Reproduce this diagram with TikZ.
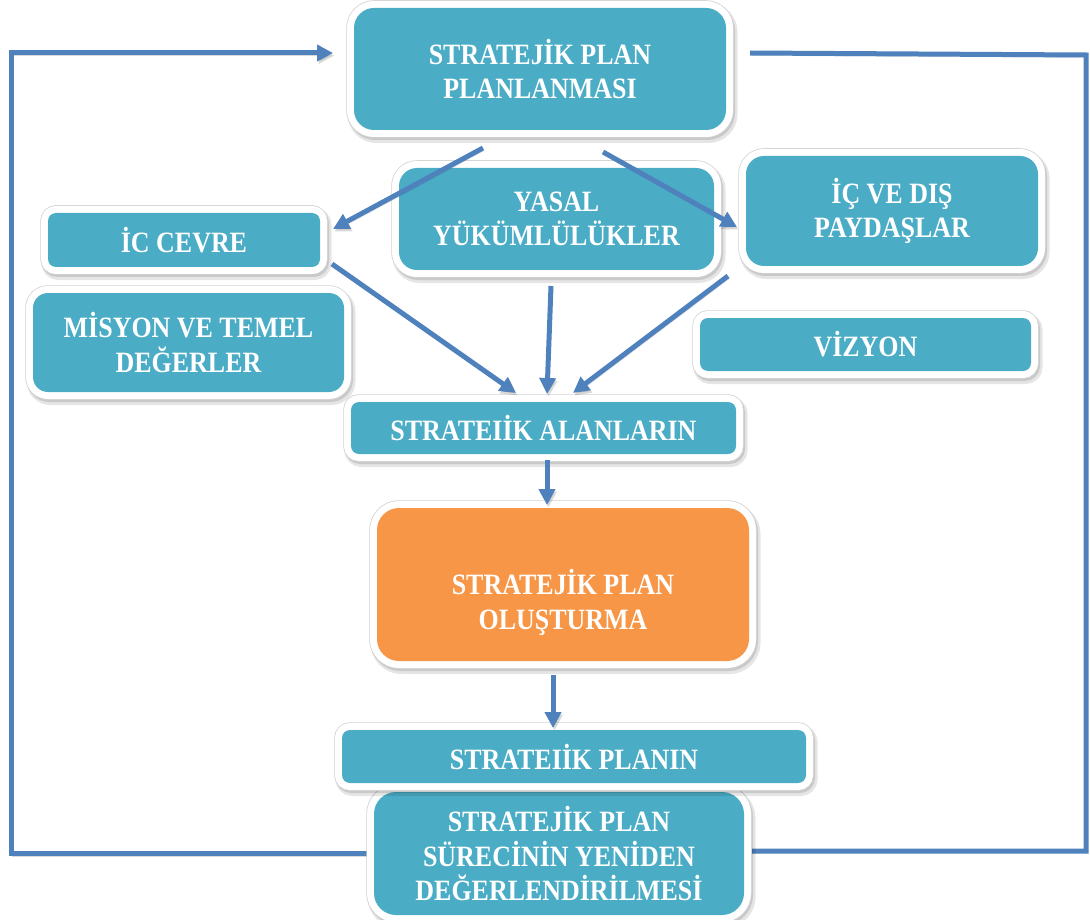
\documentclass[tikz,border=0pt]{standalone}
\usepackage{fontspec}
\setmainfont{Liberation Serif}[FakeStretch=0.88]
\usetikzlibrary{arrows.meta}
\definecolor{tealc}{HTML}{4BACC6}
\definecolor{orangec}{HTML}{F79646}
\definecolor{linec}{HTML}{4F81BD}
\pgfdeclarelayer{bg}
\pgfsetlayers{bg,main}
\tikzset{
  boxtext/.style={text=white, inner sep=0pt, align=center, font=\bfseries\fontsize{29.5}{34.5}\selectfont},
  box/.style={rectangle, rounded corners=#1, fill=tealc, boxtext,
    preaction={draw=black, opacity=0.10, line width=18pt, transform canvas={shift={(2.5pt,-4pt)}}},
    preaction={draw=black, opacity=0.12, line width=15pt, transform canvas={shift={(1.5pt,-2.5pt)}}},
    preaction={draw=black!18, line width=15.5pt},
    preaction={draw=white, line width=14pt}},
  box/.default=8pt,
  flow/.style={draw=linec, line width=5pt, -{Triangle[length=16pt,width=16pt]},
    preaction={draw=black, opacity=0.15, transform canvas={shift={(1.5pt,-2.5pt)}}}},
  loopline/.style={draw=linec, line width=5pt, line join=miter,
    preaction={draw=black, opacity=0.15, transform canvas={shift={(1.5pt,-2.5pt)}}}},
}
\begin{document}
\begin{tikzpicture}[x=1pt,y=-1pt]
\useasboundingbox (0,0) rectangle (1090,920);

% boxes
\node[box=20pt, minimum width=372pt, minimum height=122pt] (top) at (540,69) {STRATEJİK PLAN\\PLANLANMASI};
\node[box=8pt, minimum width=272pt, minimum height=54pt] (icc) at (184,240) {İC CEVRE};
\node[box=18pt, minimum width=315pt, minimum height=102pt] (yasal) at (556.5,219) {YASAL\\YÜKÜMLÜLÜKLER};
\node[box=18pt, minimum width=292pt, minimum height=110pt] (payd) at (892,211) {İÇ VE DIŞ\\PAYDAŞLAR};
\node[box=15pt, minimum width=311pt, minimum height=99pt] (mis) at (188.5,342.5) {MİSYON VE TEMEL\\DEĞERLER};
\node[box=8pt, minimum width=331pt, minimum height=53pt] (viz) at (865.5,344.5) {VİZYON};
\node[box=8pt, minimum width=385pt, minimum height=52pt] (alan) at (543.5,428) {STRATEIİK ALANLARIN};
\node[box=22pt, fill=orangec, minimum width=372pt, minimum height=153pt] (olus) at (563,584.5) {};
\node[boxtext] (olustxt) at ([yshift=-18pt]olus.center) {STRATEJİK PLAN\\OLUŞTURMA};
\node[box=22pt, minimum width=370pt, minimum height=123pt] (surec) at (559,853.5) {STRATEJİK PLAN\\SÜRECİNİN YENİDEN\\DEĞERLENDİRİLMESİ};
\node[box=8pt, minimum width=464pt, minimum height=53pt] (planin) at (574,756.5) {STRATEIİK PLANIN};

% coordinates
\coordinate (s1) at (483,148);  \coordinate (t1) at (333,229);
\coordinate (s2) at (603,152);  \coordinate (t2) at (737,227);
\coordinate (s3) at (332,264);  \coordinate (t3) at (516,393);
\coordinate (s4) at (551,286);  \coordinate (t4) at (547,394);
\coordinate (s5) at (728,276);  \coordinate (t5) at (573,393);
\coordinate (s6) at (547,460);  \coordinate (t6) at (547,505);
\coordinate (s7) at (553,675);  \coordinate (t7) at (553,728);
\coordinate (lb) at (11,853.5); \coordinate (lt) at (11,53);
\coordinate (tl) at (333,53);
\coordinate (rs) at (750,53);   \coordinate (rt) at (1086,55);
\coordinate (rb) at (1086,851); \coordinate (re) at (744,851);

\draw[flow] (s1) -- (t1);
\draw[flow] (s2) -- (t2);
\draw[flow] (s3) -- (t3);
\draw[flow] (s4) -- (t4);
\draw[flow] (s5) -- (t5);
\draw[flow] (s6) -- (t6);
\draw[flow] (s7) -- (t7);
\begin{pgfonlayer}{bg}
\draw[loopline, -{Triangle[length=16pt,width=16pt]}] (surec.west |- lb) -- (lb) -- (lt) -- (tl);
\draw[loopline] (rs) -- (rt) -- (rb) -- (re);
\end{pgfonlayer}
\end{tikzpicture}
\end{document}
